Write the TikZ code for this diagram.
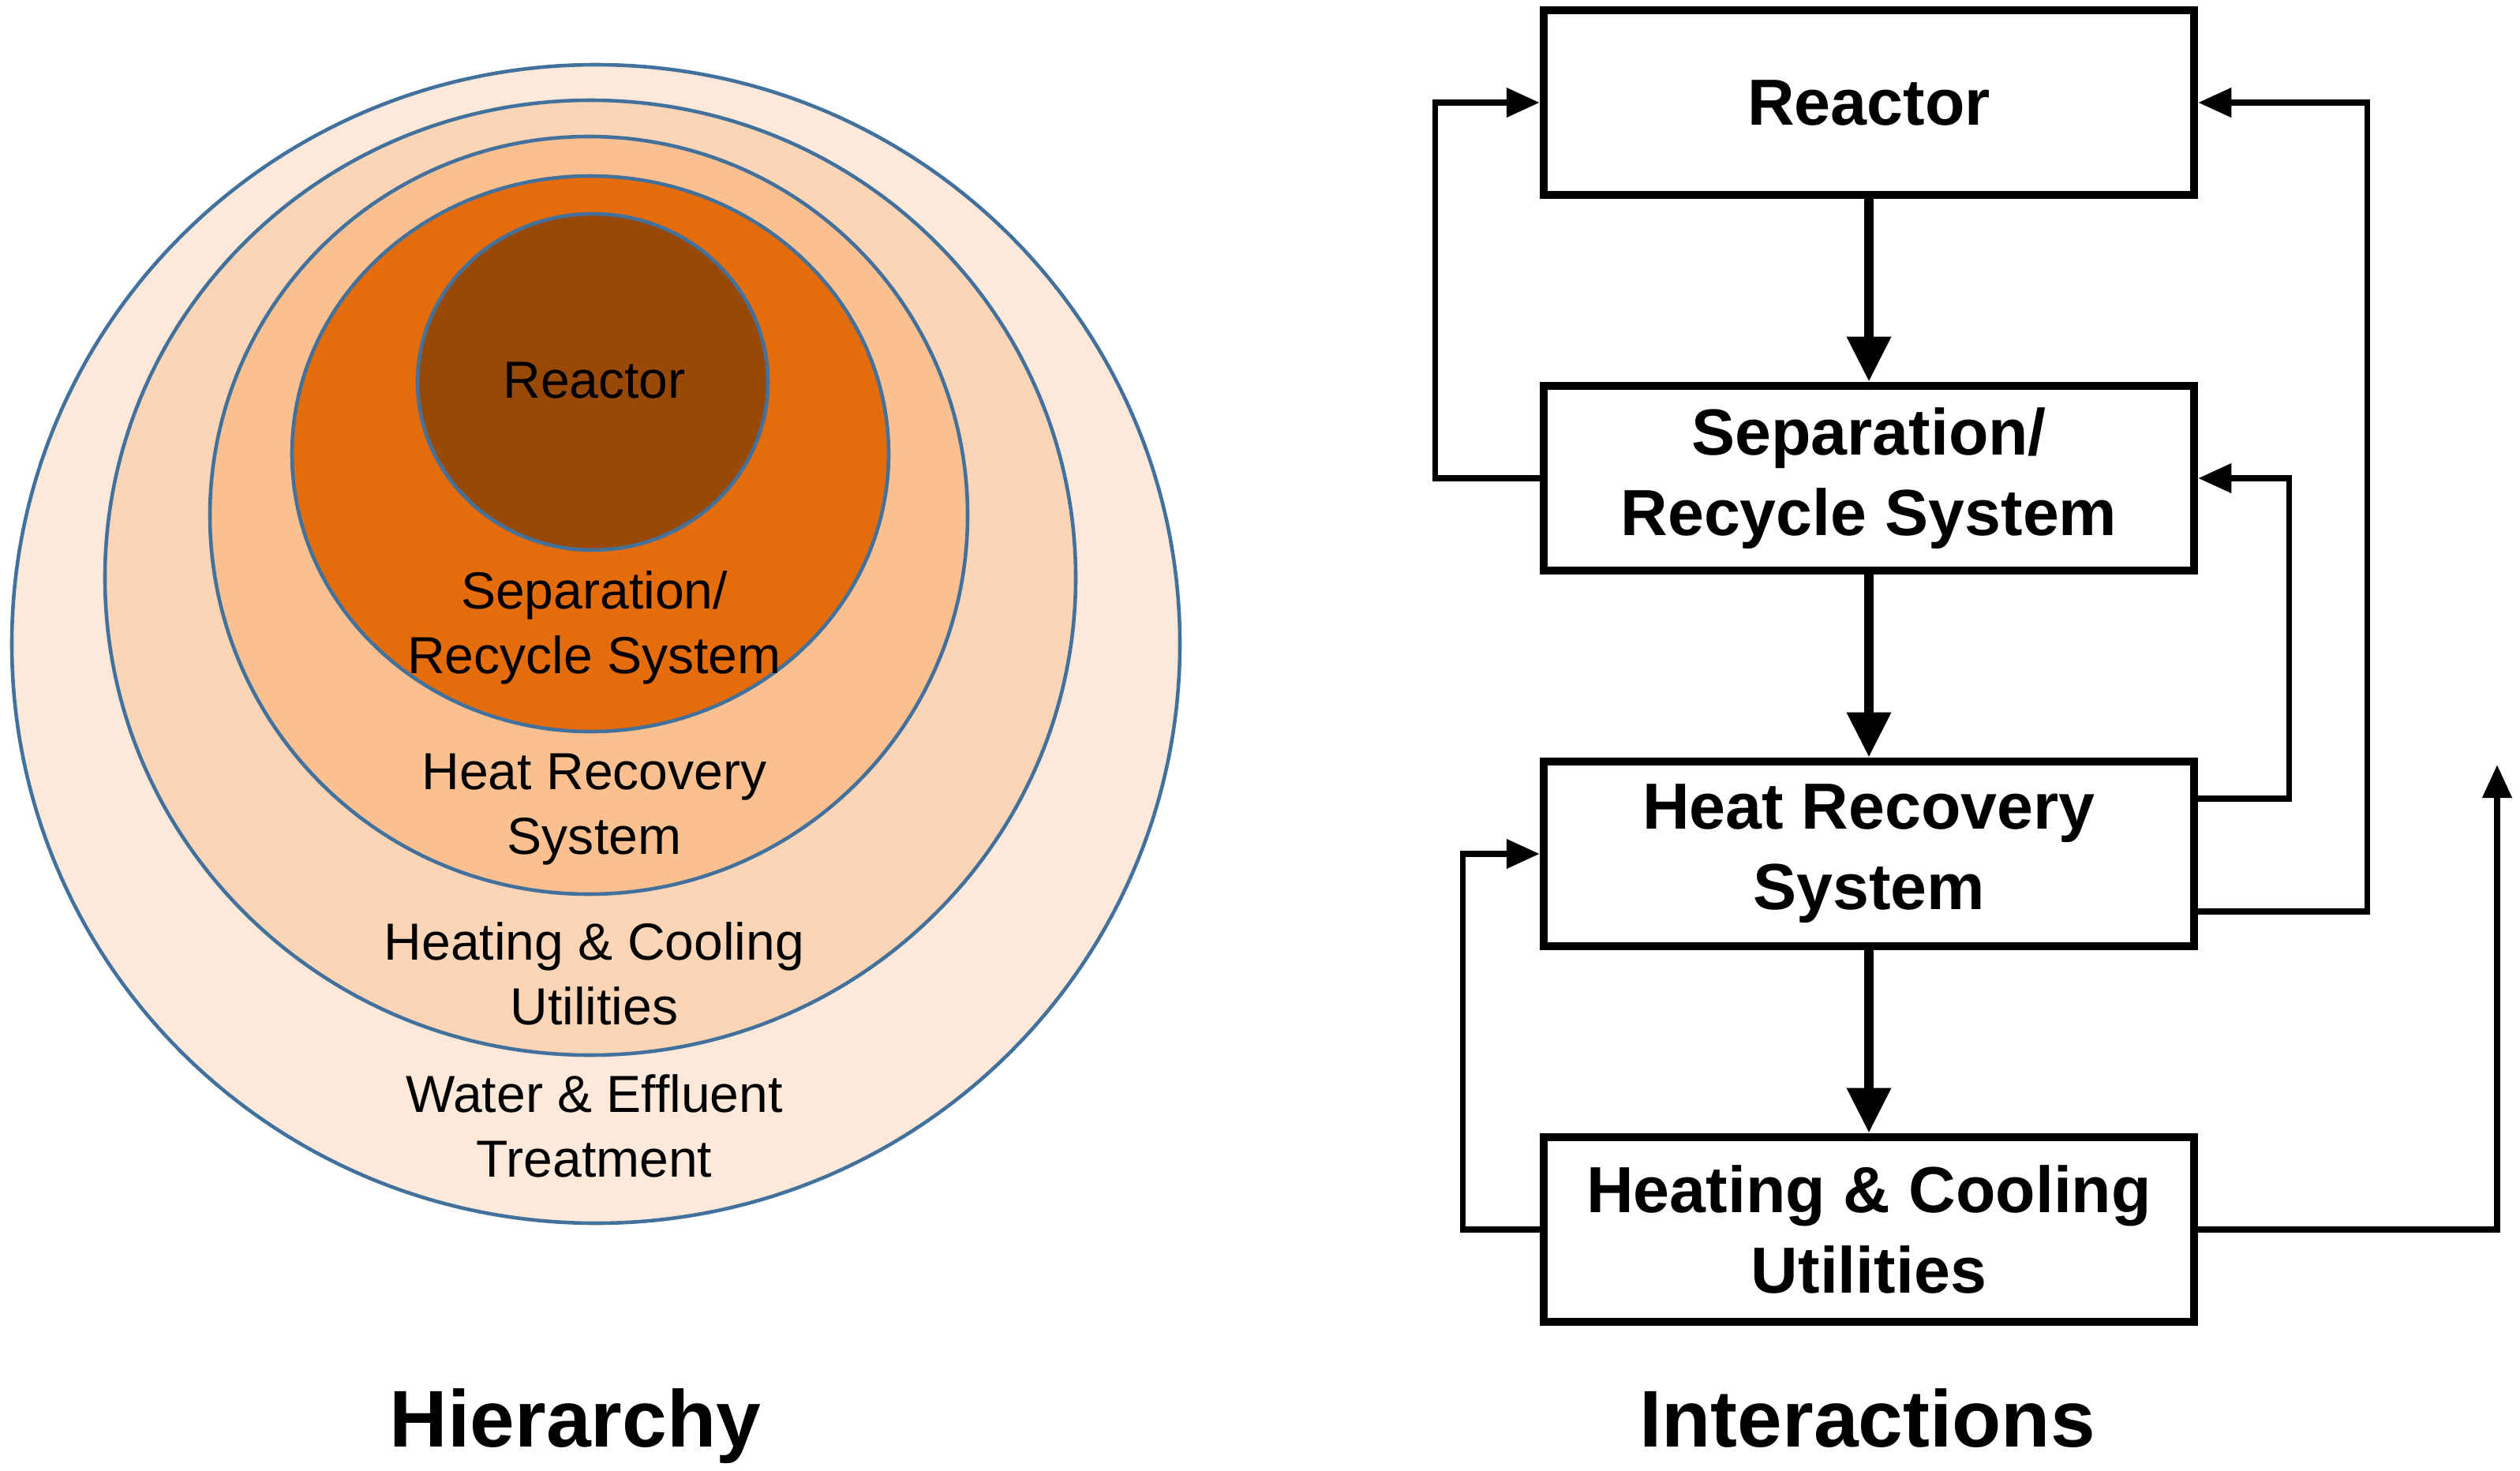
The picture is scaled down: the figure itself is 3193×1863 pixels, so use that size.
\documentclass[tikz,border=0pt]{standalone}
\usepackage{fontspec}
\setmainfont{Liberation Sans}
\usepackage{tikz}
\usetikzlibrary{arrows.meta, positioning}
\definecolor{ringline}{HTML}{41719C}
\definecolor{ringA}{HTML}{FDE9D9}
\definecolor{ringB}{HTML}{FBD5B5}
\definecolor{ringC}{HTML}{FAC090}
\definecolor{ringD}{HTML}{E46C0A}
\definecolor{ringE}{HTML}{984807}
\NewDocumentCommand{\ringfont}{}{\fontsize{18.8}{23.3}\selectfont}
\NewDocumentCommand{\boxfont}{}{\fontsize{23.5}{29}\selectfont\bfseries}
\NewDocumentCommand{\titlefont}{}{\fontsize{29}{35}\selectfont\bfseries}

\begin{document}
\begin{tikzpicture}[x=0.1mm, y=-0.1mm, node distance={47.6mm},
    box/.style = {draw, line width=3pt, minimum width=82.4mm, minimum height=23.4mm, align=center, font=\boxfont},
    ring/.style = {draw=ringline, line width=1.3pt},
    ringtext/.style = {align=center, font=\ringfont},
    title/.style = {anchor=base, font=\titlefont},
    flow/.style = {line width=3.6pt, line cap=round, -{Triangle[length=5.7mm, width=5.3mm]}},
    back/.style = {line width=2.1pt, -{Triangle[length=4.2mm, width=3.6mm]}}]
    \useasboundingbox (0,0) rectangle (3193,1863);

    \filldraw[ring, fill=ringA] (755,816) ellipse [x radius=740, y radius=734];
    \filldraw[ring, fill=ringB] (748,732) ellipse [x radius=615, y radius=605];
    \filldraw[ring, fill=ringC] (746,653) ellipse [x radius=480, y radius=480];
    \filldraw[ring, fill=ringD] (748,575) ellipse [x radius=378, y radius=352];
    \filldraw[ring, fill=ringE] (751,484) ellipse [x radius=222, y radius=213];

    \node[ringtext] (coretext) at (753,482) {Reactor};
    \node[ringtext] (septext) at (753,795) {Separation/\\Recycle System};
    \node[ringtext] (heattext) at (753,1026) {Heat Recovery\\System};
    \node[ringtext] (utiltext) at (753,1234) {Heating \& Cooling\\Utilities};
    \node[ringtext] (watertext) at (753,1427) {Water \& Effluent\\Treatment};

    \node[box] (reactor) at (2368,130) {Reactor};
    \node[box] (sep) [below of=reactor] {Separation/\\Recycle System};
    \node[box] (heat) [below of=sep] {Heat Recovery\\System};
    \node[box] (util) [below of=heat] {Heating \& Cooling\\Utilities};
    \coordinate (exit) at (3164,969);

    \draw[flow] (reactor) -- (sep);
    \draw[flow] (sep) -- (heat);
    \draw[flow] (heat) -- (util);
    \draw[back] (sep.west) -- ++(-13.2mm,0) |- (reactor.west);
    \draw[back] ([yshift=-7.3mm]heat.east) -- ++(21.4mm,0) |- (reactor.east);
    \draw[back] ([yshift=7mm]heat.east) -- ++(11.5mm,0) |- (sep.east);
    \draw[back] (util.west) -- ++(-9.7mm,0) |- (heat.west);
    \draw[back] (util.east) -| (exit);

    \node[title] (hier) at (729,1833) {Hierarchy};
    \node[title] (inter) at (2366,1833) {Interactions};
\end{tikzpicture}
\end{document}
